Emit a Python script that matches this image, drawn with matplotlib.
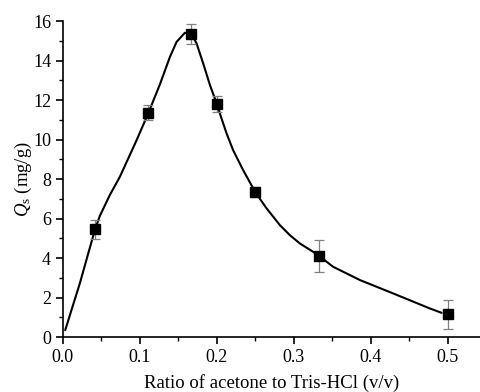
import matplotlib
matplotlib.use("Agg")
import matplotlib.pyplot as plt
from matplotlib.ticker import MultipleLocator

# measured points
ratio = [0.0417, 0.111, 0.167, 0.2, 0.25, 0.333, 0.5]
qs = [5.45, 11.35, 15.35, 11.8, 7.33, 4.1, 1.15]
qs_err = [0.47, 0.38, 0.53, 0.42, 0.25, 0.8, 0.75]

# smooth fitted curve
curve_x = [0.003, 0.022, 0.0417, 0.048, 0.061, 0.074, 0.0957, 0.111, 0.126,
           0.139, 0.1476, 0.1584, 0.167, 0.1736, 0.1822, 0.191, 0.2, 0.206,
           0.2126, 0.221, 0.234, 0.25, 0.2645, 0.2818, 0.2948, 0.3078, 0.325,
           0.333, 0.351, 0.3857, 0.429, 0.4766, 0.4918]
curve_y = [0.35, 2.72, 5.45, 6.14, 7.2, 8.12, 9.97, 11.35, 12.8,
           14.19, 14.95, 15.41, 15.35, 14.87, 13.86, 12.76, 11.8, 11.07,
           10.31, 9.47, 8.46, 7.33, 6.52, 5.67, 5.16, 4.74, 4.32,
           4.1, 3.56, 2.89, 2.21, 1.45, 1.23]

plt.rcParams['font.family'] = ['Liberation Serif', 'DejaVu Serif']
plt.rcParams['mathtext.fontset'] = 'custom'
plt.rcParams['mathtext.it'] = 'Liberation Serif:italic'
plt.rcParams['mathtext.rm'] = 'Liberation Serif'

fig = plt.figure(figsize=(4.8, 3.92), dpi=100)
ax = fig.add_axes([0.131, 0.140, 0.869, 0.806])

ax.plot(curve_x, curve_y, 'k-', lw=1.5, zorder=2,
        solid_joinstyle='round', solid_capstyle='round')
ax.errorbar(ratio, qs, yerr=qs_err, fmt='none', ecolor='#808080',
            elinewidth=0.9, capsize=3.5, capthick=0.9, zorder=3)
ax.plot(ratio, qs, 's', color='black', ms=6.5, zorder=4)

ax.set_xlim(0, 0.5416)
ax.set_ylim(0, 16)
ax.xaxis.set_major_locator(MultipleLocator(0.1))
ax.xaxis.set_minor_locator(MultipleLocator(0.05))
ax.yaxis.set_major_locator(MultipleLocator(2))
ax.yaxis.set_minor_locator(MultipleLocator(1))
ax.xaxis.set_major_formatter(plt.FuncFormatter(lambda v, p: f"{v:.1f}"))

for s in ['top', 'right']:
    ax.spines[s].set_visible(False)
for s in ['left', 'bottom']:
    ax.spines[s].set_linewidth(1.2)

ax.tick_params(which='major', direction='out', length=5, width=1.2, labelsize=13)
ax.tick_params(which='minor', direction='out', length=3, width=1.0)

ax.set_xlabel('Ratio of acetone to Tris-HCl (v/v)', fontsize=13.5, labelpad=6)
ax.set_ylabel(r'$Q_\mathrm{s}$ (mg/g)', fontsize=13.5, labelpad=-1)

fig.savefig('out.png', dpi=100)
